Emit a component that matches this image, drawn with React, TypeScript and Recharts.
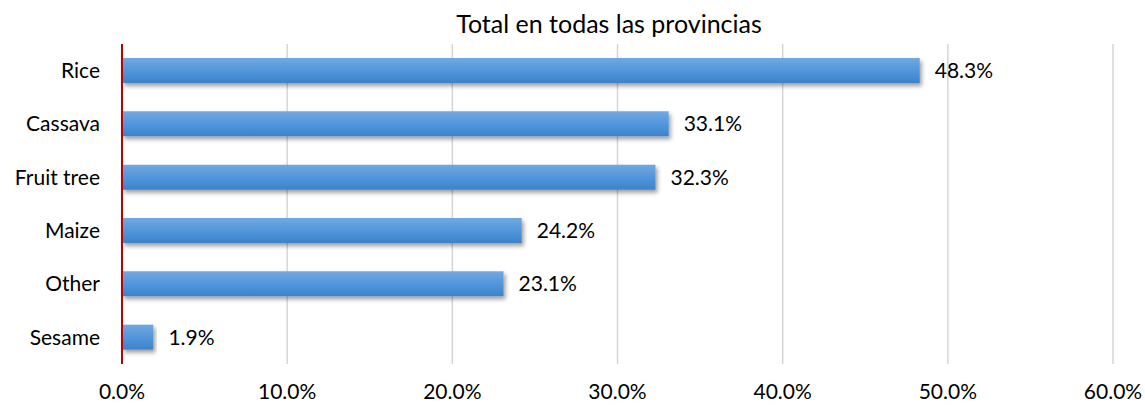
import { BarChart, Bar, XAxis, YAxis, CartesianGrid, LabelList } from 'recharts';

const crops = ['Rice', 'Cassava', 'Fruit tree', 'Maize', 'Other', 'Sesame'];
const shares = [48.3, 33.1, 32.3, 24.2, 23.1, 1.9];
const xTicks = [0, 10, 20, 30, 40, 50, 60];

const data = crops.map((crop, i) => ({ crop, value: shares[i] }));

const pct = (v: number) => `${Number(v).toFixed(1)}%`;
const font = 'Lato, "Open Sans", sans-serif';

export default function App() {
    return (
        <div style={{ position: 'fixed', left: 0, top: 0, width: 1145, height: 405, background: '#fff', fontFamily: font }}>
            <div
                style={{
                    position: 'absolute',
                    top: 9,
                    left: 0,
                    width: 1218,
                    textAlign: 'center',
                    fontSize: 25,
                    lineHeight: '28px',
                    color: '#000',
                }}
            >
                Total en todas las provincias
            </div>
            <BarChart
                width={1145}
                height={405}
                data={data}
                layout="vertical"
                margin={{ top: 44, right: 32, left: 0, bottom: 0 }}
            >
                <defs>
                    <linearGradient id="barFill" x1="0" y1="0" x2="0" y2="1">
                        <stop offset="0%" stopColor="#72a8e0" />
                        <stop offset="55%" stopColor="#4f95db" />
                        <stop offset="100%" stopColor="#3d82c8" />
                    </linearGradient>
                    <filter id="barShadow" x="-5%" y="-20%" width="115%" height="170%">
                        <feDropShadow dx="2" dy="3" stdDeviation="2.2" floodColor="#000" floodOpacity="0.38" />
                    </filter>
                </defs>
                <CartesianGrid horizontal={false} stroke="#d6d6d6" strokeWidth={1.5} />
                <XAxis
                    type="number"
                    domain={[0, 60]}
                    ticks={xTicks}
                    interval={0}
                    tickFormatter={pct}
                    axisLine={false}
                    tickLine={false}
                    tickMargin={14}
                    height={41}
                    tick={{ fontSize: 21, fill: '#000', fontFamily: font }}
                />
                <YAxis
                    type="category"
                    dataKey="crop"
                    width={122}
                    axisLine={{ stroke: '#c00000', strokeWidth: 2 }}
                    tickLine={false}
                    tickMargin={16}
                    tick={{ fontSize: 21, fill: '#000', fontFamily: font }}
                />
                <Bar
                    dataKey="value"
                    fill="url(#barFill)"
                    barSize={25}
                    filter="url(#barShadow)"
                    isAnimationActive={false}
                >
                    <LabelList
                        dataKey="value"
                        position="right"
                        offset={15}
                        formatter={(v: any) => pct(v)}
                        style={{ fontSize: 21, fill: '#000', fontFamily: font }}
                    />
                </Bar>
            </BarChart>
        </div>
    );
}
